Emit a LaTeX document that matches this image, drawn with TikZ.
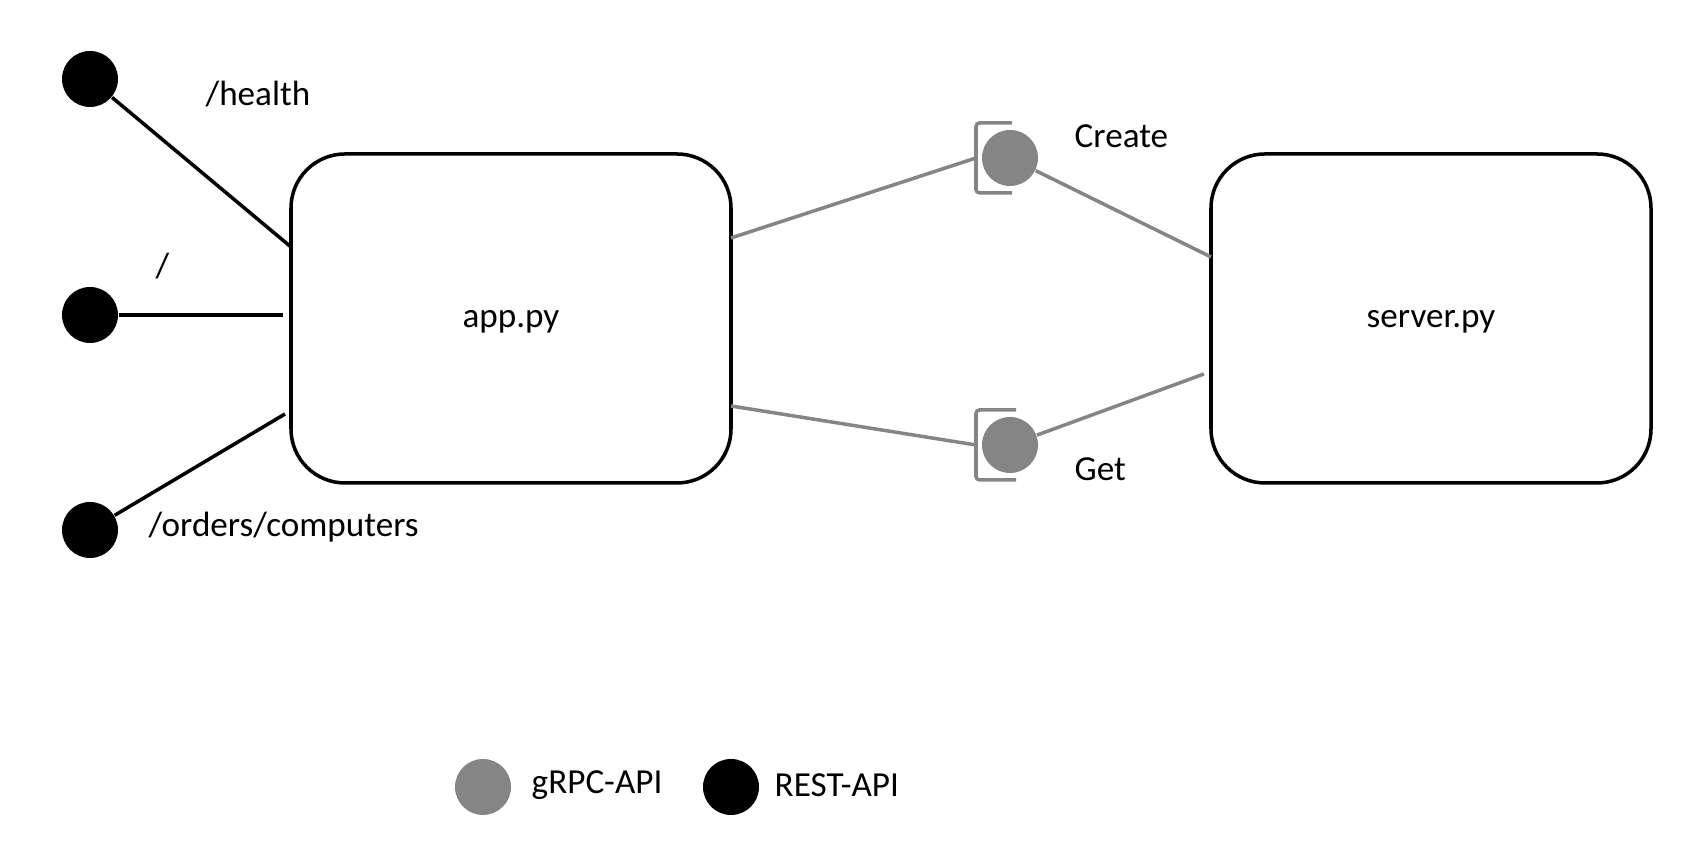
\documentclass[tikz,border=0pt]{standalone}
\usepackage{fontspec}
\setmainfont{Carlito}
\usepackage{xcolor}
\definecolor{grpcgray}{HTML}{858585}

\begin{document}
\begin{tikzpicture}[
    font=\fontsize{10}{12}\selectfont,
    box/.style={draw, line width=1pt, rounded corners=0.54cm, text depth=0pt,
      minimum width=4.4cm, minimum height=3.29cm},
    rest/.style={circle, fill=black, minimum size=0.56cm, inner sep=0pt},
    grpc/.style={circle, fill=grpcgray, minimum size=0.56cm, inner sep=0pt},
    tag/.style={anchor=west, inner sep=0pt},
    restline/.style={line width=1pt},
    grpcline/.style={line width=1pt, grpcgray},
    socket/.style={line width=1pt, grpcgray, rounded corners=1pt}]
  \useasboundingbox (0,0) rectangle (17.02,8.44);
  % Services
  \node[box] (app) at (5.11,5.255) {app.py};
  \node[box] (server) at (14.31,5.255) {server.py};
  % REST endpoints
  \node[rest] (r1) at (0.90,7.65) {};
  \node[rest] (r2) at (0.90,5.29) {};
  \node[rest] (r3) at (0.90,3.14) {};
  \coordinate (h1) at (2.91,5.97);
  \coordinate (h2) at (2.83,5.29);
  \coordinate (h3) at (2.85,4.30);
  \draw[restline] (r1) -- (h1);
  \draw[restline] (r2) -- (h2);
  \draw[restline] (r3) -- (h3);
  \node[tag] (l1) at (2.05,7.50) {/health};
  \node[tag] (l2) at (1.55,5.78) {/};
  \node[tag] (l3) at (1.48,3.17) {/orders/computers};
  % gRPC calls
  \node[grpc] (c1) at (10.10,6.86) {};
  \node[grpc] (c2) at (10.10,3.99) {};
  \draw[socket] ([shift={(0.02,0.35)}]c1.center) -- ++(-0.36,0) -- ++(0,-0.70) -- ++(0.36,0);
  \draw[socket] ([shift={(0.06,0.35)}]c2.center) -- ++(-0.40,0) -- ++(0,-0.70) -- ++(0.40,0);
  \coordinate (a1) at (7.31,6.06);
  \coordinate (a2) at (7.31,4.38);
  \coordinate (s1) at (12.11,5.87);
  \coordinate (s2) at (12.04,4.70);
  \draw[grpcline] (a1) -- ([xshift=-0.34cm]c1.center);
  \draw[grpcline] (a2) -- ([xshift=-0.34cm]c2.center);
  \draw[grpcline] (c1) -- (s1);
  \draw[grpcline] (c2) -- (s2);
  \node[tag] (create) at (10.74,7.08) {Create};
  \node[tag] (get) at (10.74,3.75) {Get};
  % Legend
  \node[grpc] (kg) at (4.83,0.57) {};
  \node[tag] (kgl) at (5.31,0.59) {gRPC-API};
  \node[rest] (kr) at (7.31,0.57) {};
  \node[tag] (krl) at (7.74,0.59) {REST-API};
\end{tikzpicture}
\end{document}
